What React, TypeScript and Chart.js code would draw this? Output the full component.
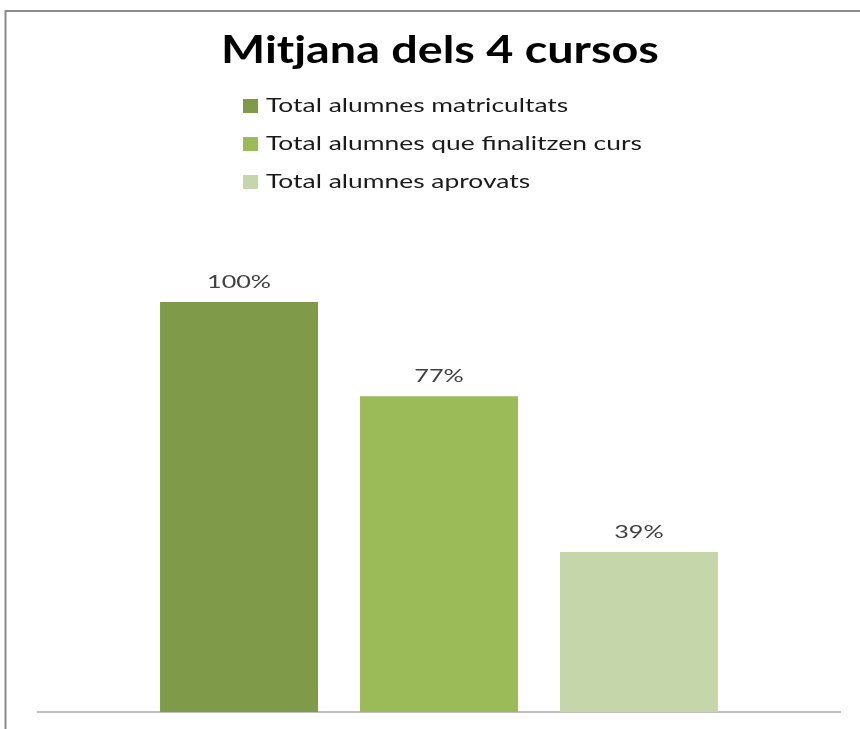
import React, { useEffect, useRef } from "react";
import { Chart, registerables } from "chart.js";

Chart.register(...registerables);

const titleText = "Mitjana dels 4 cursos";
const categories = [""];
const seriesLabels = [
  "Total alumnes matricultats",
  "Total alumnes que finalitzen curs",
  "Total alumnes aprovats",
];
const seriesValues = [100, 77, 39];
const seriesColors = ["#7F9A48", "#9BBB59", "#C5D6AA"];

const FONT = "Lato, 'Open Sans', sans-serif";

function drawStretched(ctx: any, text: string, x: number, y: number, sx: number, align: string) {
  ctx.save();
  ctx.translate(x, y);
  ctx.scale(sx, 1);
  ctx.textAlign = align;
  ctx.fillText(text, 0, 0);
  ctx.restore();
}

const framePlugin = {
  id: "frame",
  beforeDraw(chart: any) {
    const { ctx, width, height } = chart;
    ctx.save();
    ctx.fillStyle = "#ffffff";
    ctx.fillRect(0, 0, width, height);
    ctx.strokeStyle = "#8a8a8a";
    ctx.lineWidth = 2;
    ctx.beginPath();
    ctx.moveTo(5.5, height);
    ctx.lineTo(5.5, 11);
    ctx.lineTo(width, 11);
    ctx.stroke();
    ctx.restore();
  },
};

const titlePlugin = {
  id: "stretchTitle",
  afterDraw(chart: any) {
    const { ctx } = chart;
    ctx.save();
    ctx.font = `bold 38px ${FONT}`;
    ctx.fillStyle = "#000000";
    ctx.textBaseline = "middle";
    drawStretched(ctx, titleText, 440, 51, 1.23, "center");
    ctx.restore();
  },
};

const legendPlugin = {
  id: "vlegend",
  afterDraw(chart: any) {
    const { ctx } = chart;
    ctx.save();
    ctx.font = `20px ${FONT}`;
    ctx.textBaseline = "middle";
    chart.data.datasets.forEach((ds: any, i: number) => {
      const cy = 106 + i * 38;
      ctx.fillStyle = ds.backgroundColor;
      ctx.fillRect(243, cy - 7, 15, 14);
      ctx.fillStyle = "#1a1a1a";
      drawStretched(ctx, ds.label, 266, cy, 1.32, "left");
    });
    ctx.restore();
  },
};

const valueLabelPlugin = {
  id: "valueLabels",
  afterDatasetsDraw(chart: any) {
    const { ctx } = chart;
    ctx.save();
    ctx.font = `18px ${FONT}`;
    ctx.fillStyle = "#404040";
    ctx.textBaseline = "middle";
    chart.data.datasets.forEach((ds: any, i: number) => {
      const meta = chart.getDatasetMeta(i);
      meta.data.forEach((bar: any, j: number) => {
        drawStretched(ctx, `${ds.data[j]}%`, bar.x, bar.y - 20, 1.4, "center");
      });
    });
    ctx.restore();
  },
};

export default function App() {
  const canvasRef = useRef<HTMLCanvasElement | null>(null);

  useEffect(() => {
    if (!canvasRef.current) return;
    const chart = new Chart(canvasRef.current, {
      type: "bar",
      data: {
        labels: categories,
        datasets: seriesLabels.map((label, i) => ({
          label,
          data: [seriesValues[i]],
          backgroundColor: seriesColors[i],
          borderWidth: 0,
          categoryPercentage: 0.748,
          barPercentage: 0.79,
        })),
      },
      options: {
        animation: false,
        responsive: false,
        maintainAspectRatio: false,
        layout: { padding: { left: 38, right: 20, top: 220, bottom: 17 } },
        plugins: {
          legend: { display: false },
          tooltip: { enabled: false },
          title: { display: false },
        },
        scales: {
          x: {
            display: true,
            grid: { display: false, drawTicks: false },
            ticks: { display: false },
            border: { display: true, color: "#bfbfbf", width: 2 },
          },
          y: {
            display: false,
            min: 0,
            max: 120,
          },
        },
      },
      plugins: [framePlugin, titlePlugin, legendPlugin, valueLabelPlugin],
    });
    return () => chart.destroy();
  }, []);

  return (
    <div style={{ position: "fixed", left: 0, top: 0, width: 860, height: 729, background: "#fff" }}>
      <canvas ref={canvasRef} width={860} height={729} style={{ width: 860, height: 729, display: "block" }} />
    </div>
  );
}
